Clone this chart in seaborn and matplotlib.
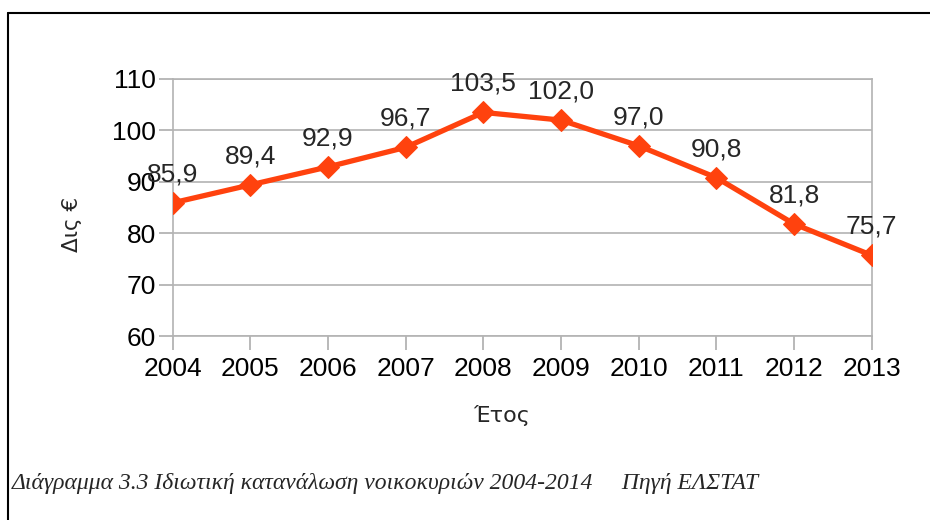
import matplotlib
matplotlib.use('Agg')
import matplotlib.pyplot as plt
import seaborn as sns
import pandas as pd

# Δεδομένα: ιδιωτική κατανάλωση νοικοκυριών (δις €)
years = [2004, 2005, 2006, 2007, 2008, 2009, 2010, 2011, 2012, 2013]
values = [85.9, 89.4, 92.9, 96.7, 103.5, 102.0, 97.0, 90.8, 81.8, 75.7]
y_ticks = [60, 70, 80, 90, 100, 110]

df = pd.DataFrame({'Έτος': years, 'Δις €': values})

grid_col = '#b3b3b3'
line_col = '#ff420e'

sns.set_style('white', {'xtick.bottom': True, 'ytick.left': True,
                        'xtick.color': grid_col, 'ytick.color': grid_col})
plt.rcParams['font.family'] = ['Liberation Sans', 'DejaVu Sans']
plt.rcParams['xtick.major.size'] = 10
plt.rcParams['ytick.major.size'] = 10
plt.rcParams['xtick.major.width'] = 1.3
plt.rcParams['ytick.major.width'] = 1.3

fig = plt.figure(figsize=(9.3, 5.2), dpi=100)
ax = fig.add_axes([172.7 / 930, 1 - 336 / 520, (871.7 - 172.7) / 930, (336 - 79) / 520])

sns.lineplot(data=df, x='Έτος', y='Δις €', ax=ax, color=line_col, linewidth=3.8,
             marker='D', markersize=11, markeredgecolor=line_col, zorder=3)

ax.set_xlim(2004, 2013)
ax.set_ylim(60, 110)
ax.set_xticks(years)
ax.set_yticks(y_ticks)
ax.tick_params(axis='both', labelsize=19, labelcolor='black')
ax.tick_params(axis='x', pad=5)
ax.tick_params(axis='y', pad=2)
ax.yaxis.grid(True, color=grid_col, linewidth=1.2)
for s in ax.spines.values():
    s.set_color(grid_col)
    s.set_linewidth(1.2)
ax.set_xlabel('')
ax.set_ylabel('')

# Ετικέτες τιμών
for x, v in zip(years, values):
    ax.annotate(f'{v:.1f}'.replace('.', ','), (x, v), xytext=(0, 12),
                textcoords='offset points', ha='center', va='bottom',
                fontsize=19, clip_on=False, zorder=4)

fig.text(72 / 930, 1 - 224 / 520, 'Δις €', rotation=90, ha='center', va='center',
         fontsize=15.5, family=['DejaVu Sans'])
fig.text(502 / 930, 1 - 416 / 520, 'Έτος', ha='center', va='center',
         fontsize=16, family=['DejaVu Sans'])

fig.text(12 / 930, 1 - 483 / 520,
         'Διάγραμμα 3.3 Ιδιωτική κατανάλωση νοικοκυριών 2004-2014     Πηγή ΕΛΣΤΑΤ',
         ha='left', va='center', fontsize=17, style='italic',
         family=['Liberation Serif', 'DejaVu Serif'])

# Πλαίσιο (πάνω και αριστερά)
fig.add_artist(plt.Line2D([8 / 930, 1], [1 - 13 / 520, 1 - 13 / 520],
                          transform=fig.transFigure, color='black', linewidth=1.5))
fig.add_artist(plt.Line2D([8 / 930, 8 / 930], [0, 1 - 13 / 520],
                          transform=fig.transFigure, color='black', linewidth=1.5))

fig.savefig('out.png', dpi=100)
